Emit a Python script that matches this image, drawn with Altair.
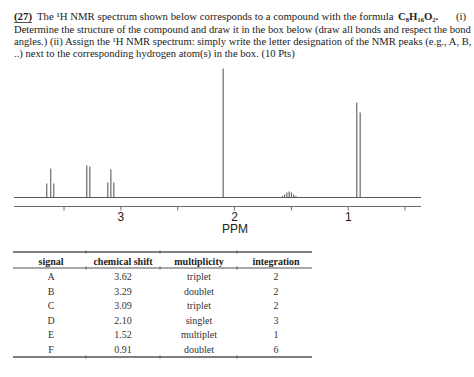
import altair as alt
import pandas as pd

# ---------------- data ----------------
# question text
Q_NUM = "(27)"
Q_LINE1 = "The \u00b9H NMR spectrum shown below corresponds to a compound with the formula"
Q_FORMULA = "C\u2088H\u2081\u2086O\u2082."
Q_LINE1_END = "(i)"
Q_LINES = [
    "Determine the structure of the compound and draw it in the box below (draw all bonds and respect the bond",
    "angles.) (ii) Assign the \u00b9H NMR spectrum: simply write the letter designation of the NMR peaks (e.g., A, B,",
    "..) next to the corresponding hydrogen atom(s) in the box. (10 Pts)",
]

# spectrum lines (ppm, relative height)
peak_ppm = [3.652, 3.617, 3.590,
            3.300, 3.273,
            3.115, 3.088, 3.062,
            2.100,
            1.580, 1.560, 1.540, 1.520, 1.500, 1.480, 1.460,
            0.925, 0.895]
peak_height = [14, 29, 14,
               32, 31,
               15, 28, 15,
               129,
               1.5, 3, 5, 6, 5, 3, 1.5,
               95, 85]
ppm_min, ppm_max = 0.36, 3.94
tick_values = [3.5, 3, 2.5, 2, 1.5, 1, 0.5]
label_values = [3, 2, 1]
x_title = "PPM"

# table
table_cols = ["signal", "chemical shift", "multiplicity", "integration"]
signals = ["A", "B", "C", "D", "E", "F"]
shifts = ["3.62", "3.29", "3.09", "2.10", "1.52", "0.91"]
mults = ["triplet", "doublet", "triplet", "singlet", "multiplet", "doublet"]
integs = ["2", "2", "2", "3", "1", "6"]

# ---------------- layout ----------------
X_RANGE = [421, 14]          # pixel span of the ppm axis
Y_RANGE = [197.5, 68.5]      # pixel span of the intensity scale
AXIS_Y = 206.5               # position of the ppm axis line

peaks = pd.DataFrame({"ppm": peak_ppm, "h": peak_height, "z": [0] * len(peak_ppm)})
ticks = pd.DataFrame({"ppm": tick_values})
labels = pd.DataFrame({"ppm": label_values, "txt": [str(v) for v in label_values]})

SERIF = "Liberation Serif"
SANS = "Liberation Sans"
TXT = "#222222"
LINE = "#6a6a6a"

xs = alt.Scale(domain=[ppm_min, ppm_max], range=X_RANGE, zero=False, nice=False)
ys = alt.Scale(domain=[0, 129], range=Y_RANGE, zero=False, nice=False)

one = pd.DataFrame({"k": [0]})

def txt(text, x, y, bold=False, size=10.8, color=TXT, line_height=12.2,
        align="left", font=SERIF):
    return alt.Chart(one).mark_text(
        text=text, align=align, baseline="middle", font=font, fontSize=size,
        lineHeight=line_height, fontWeight="bold" if bold else "normal", color=color
    ).encode(x=alt.value(x), y=alt.value(y))

title_layers = [
    txt(Q_NUM, 14, 17, bold=True),
    alt.Chart(one).mark_rule(color=TXT, strokeWidth=0.8).encode(
        x=alt.value(14), x2=alt.value(32), y=alt.value(22.5)),
    txt(Q_LINE1, 37, 17),
    txt(Q_FORMULA, 398, 17, bold=True),
    txt(Q_LINE1_END, 456, 17),
    txt(Q_LINES, 14, 29.5, size=10.6),
]

# spectrum
peak_layer = alt.Chart(peaks).mark_rule(color=LINE, strokeWidth=1.2).encode(
    x=alt.X("ppm:Q", scale=xs, axis=None),
    y=alt.Y("h:Q", scale=ys, axis=None),
    y2="z:Q",
)
baseline = alt.Chart(one).mark_rule(color="#5a5a5a", strokeWidth=1.2).encode(
    x=alt.value(X_RANGE[1]), x2=alt.value(X_RANGE[0]), y=alt.value(Y_RANGE[0]))

# ppm axis drawn by hand so that it sits just below the baseline
axis_line = alt.Chart(one).mark_rule(color=LINE, strokeWidth=1).encode(
    x=alt.value(X_RANGE[1]), x2=alt.value(X_RANGE[0]), y=alt.value(AXIS_Y))
tick_layer = alt.Chart(ticks).mark_rule(color=LINE, strokeWidth=1).encode(
    x=alt.X("ppm:Q", scale=xs, axis=None),
    y=alt.value(AXIS_Y), y2=alt.value(AXIS_Y + 4))
label_layer = alt.Chart(labels).mark_text(
    font=SANS, fontSize=12, color=TXT, baseline="middle", align="center"
).encode(x=alt.X("ppm:Q", scale=xs, axis=None), y=alt.value(217), text="txt:N")
title_x = txt(x_title, 235, 229, size=12, font=SANS, align="center")

# table: one column of text per table column
col_x = [51, 123, 199, 276]
table_layers = []
for cx, head, vals in zip(col_x, table_cols, [signals, shifts, mults, integs]):
    table_layers.append(txt(head, cx, 262, bold=True, size=10, align="center"))
    table_layers.append(txt(vals, cx, 277, size=10, color="#333333",
                            line_height=14.5, align="center"))

for yy, w in [(252, 1.5), (268, 1.2), (357, 1.5)]:
    table_layers.append(alt.Chart(one).mark_rule(color="#555555", strokeWidth=w).encode(
        x=alt.value(13), x2=alt.value(312), y=alt.value(yy)))
    for bx in [86, 160, 237]:
        table_layers.append(alt.Chart(one).mark_rule(color="#555555", strokeWidth=1).encode(
            x=alt.value(bx), y=alt.value(yy - 1.5), y2=alt.value(yy + 1.5)))

chart = alt.layer(
    *title_layers, peak_layer, baseline, axis_line, tick_layer, label_layer, title_x,
    *table_layers
).properties(
    width=474, height=377, padding=0, autosize="none", background="white"
).configure_view(stroke=None)

chart.save("out.html", embed_options={"renderer": "svg", "actions": False})
